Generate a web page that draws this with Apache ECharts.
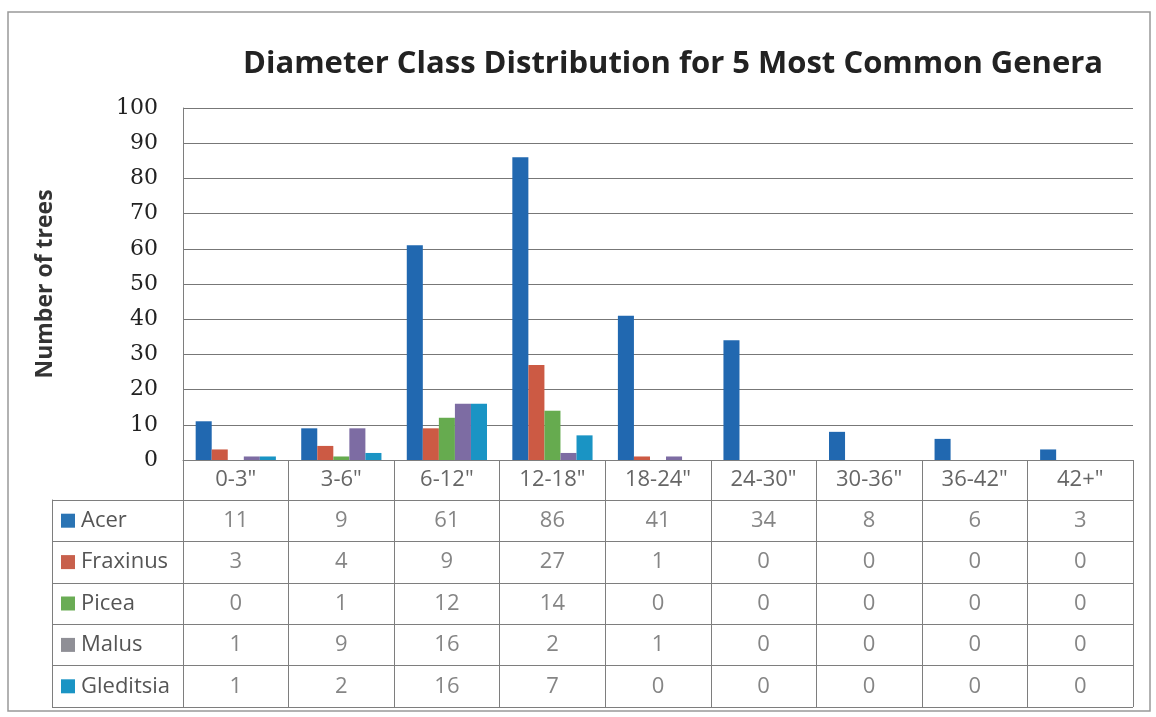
<!DOCTYPE html>
<html>
<head>
<meta charset="utf-8">
<script src="https://cdn.jsdelivr.net/npm/echarts@6/dist/echarts.min.js"></script>
<style>
    html, body {margin: 0; padding: 0; background: #fff;}
    #main {width: 1156px; height: 717px;}
</style>
</head>
<body>
<div id="main"></div>
<script>
var categories = ['0-3"', '3-6"', '6-12"', '12-18"', '18-24"', '24-30"', '30-36"', '36-42"', '42+"'];
var genera = ['Acer', 'Fraxinus', 'Picea', 'Malus', 'Gleditsia'];
var acer = [11, 9, 61, 86, 41, 34, 8, 6, 3];
var fraxinus = [3, 4, 9, 27, 1, 0, 0, 0, 0];
var picea = [0, 1, 12, 14, 0, 0, 0, 0, 0];
var malus = [1, 9, 16, 2, 1, 0, 0, 0, 0];
var gleditsia = [1, 2, 16, 7, 0, 0, 0, 0, 0];
var yTicks = [0, 10, 20, 30, 40, 50, 60, 70, 80, 90, 100];

var colors = ['#2168b0', '#cc5a44', '#66ab4f', '#7d6ca3', '#1a94c4'];
var iconColors = ['#2a74b4', '#c8604c', '#6aac55', '#8f8f96', '#1a94c4'];
var values = [acer, fraxinus, picea, malus, gleditsia];
var lineColor = '#7e7e7e';

var myChart = echarts.init(document.getElementById('main'));

// bars
var series = [];
for (var i = 0; i < genera.length; i++) {
    series.push({
        name: genera[i],
        type: 'bar',
        xAxisIndex: 0,
        yAxisIndex: 0,
        barGap: 0,
        barCategoryGap: '24%',
        itemStyle: {color: colors[i]},
        data: values[i]
    });
}

// data table cells
var cells = [];
for (var r = 0; r < genera.length; r++) {
    for (var c = 0; c < categories.length; c++) {
        cells.push([categories[c], genera[r], values[r][c]]);
    }
}
series.push({
    type: 'scatter',
    xAxisIndex: 1,
    yAxisIndex: 1,
    symbolSize: 1,
    itemStyle: {color: 'transparent'},
    label: {
        show: true,
        position: 'inside',
        fontFamily: 'Open Sans',
        fontSize: 22,
        color: '#666',
        formatter: function (p) { return p.value[2]; }
    },
    data: cells
});

// legend keys inside the table
var rich = {};
for (var k = 0; k < genera.length; k++) {
    rich['k' + k] = {backgroundColor: iconColors[k], width: 14, height: 14};
}
rich.t = {fontFamily: 'Open Sans', fontSize: 22, color: '#555', padding: [0, 0, 0, 6]};

var option = {
    animation: false,
    backgroundColor: '#fff',
    title: {
        text: 'Diameter Class Distribution for 5 Most Common Genera',
        left: 238,
        top: 44,
        textStyle: {fontFamily: 'Open Sans', fontWeight: 'bold', fontSize: 31, color: '#222'}
    },
    graphic: [{
        type: 'rect',
        shape: {x: 8, y: 12, width: 1142, height: 699},
        style: {fill: 'none', stroke: '#999', lineWidth: 1.5}
    }],
    grid: [
        {left: 183, top: 108, width: 950, height: 352},
        {left: 183, top: 500, width: 950, height: 207}
    ],
    xAxis: [{
        type: 'category',
        gridIndex: 0,
        data: categories,
        axisLine: {lineStyle: {color: lineColor}},
        axisTick: {show: true, interval: 0, length: 40, lineStyle: {color: lineColor}},
        axisLabel: {interval: 0, margin: 9, fontFamily: 'Open Sans', fontSize: 22, color: '#666'}
    }, {
        type: 'category',
        gridIndex: 1,
        data: categories,
        axisLine: {show: false},
        axisTick: {show: false},
        axisLabel: {show: false},
        splitLine: {show: true, interval: 0, lineStyle: {color: lineColor}}
    }],
    yAxis: [{
        type: 'value',
        gridIndex: 0,
        min: 0,
        max: 100,
        interval: 10,
        name: 'Number of trees',
        nameLocation: 'middle',
        nameGap: 126,
        nameTextStyle: {fontFamily: 'Open Sans', fontWeight: 'bold', fontSize: 23, color: '#333'},
        axisLine: {show: true, lineStyle: {color: lineColor}},
        axisTick: {show: false},
        axisLabel: {
            margin: 25,
            fontFamily: 'DejaVu Serif',
            fontSize: 22,
            color: '#222',
            formatter: function (v) { return yTicks.indexOf(v) >= 0 ? v : ''; }
        },
        splitLine: {lineStyle: {color: '#777'}}
    }, {
        type: 'category',
        gridIndex: 1,
        inverse: true,
        data: genera,
        axisLine: {show: true, lineStyle: {color: lineColor}},
        axisTick: {show: true, interval: 0, length: 131, inside: false, lineStyle: {color: lineColor}},
        axisLabel: {
            interval: 0,
            margin: 122,
            align: 'left',
            rich: rich,
            formatter: function (v, idx) { return '{k' + idx + '|}{t|' + v + '}'; }
        },
        splitLine: {show: true, interval: 0, lineStyle: {color: lineColor}}
    }, {
        type: 'category',
        gridIndex: 1,
        position: 'left',
        offset: 131,
        data: genera,
        axisLine: {show: true, lineStyle: {color: lineColor}},
        axisTick: {show: false},
        axisLabel: {show: false}
    }],
    series: series
};

myChart.setOption(option);
</script>
</body>
</html>
